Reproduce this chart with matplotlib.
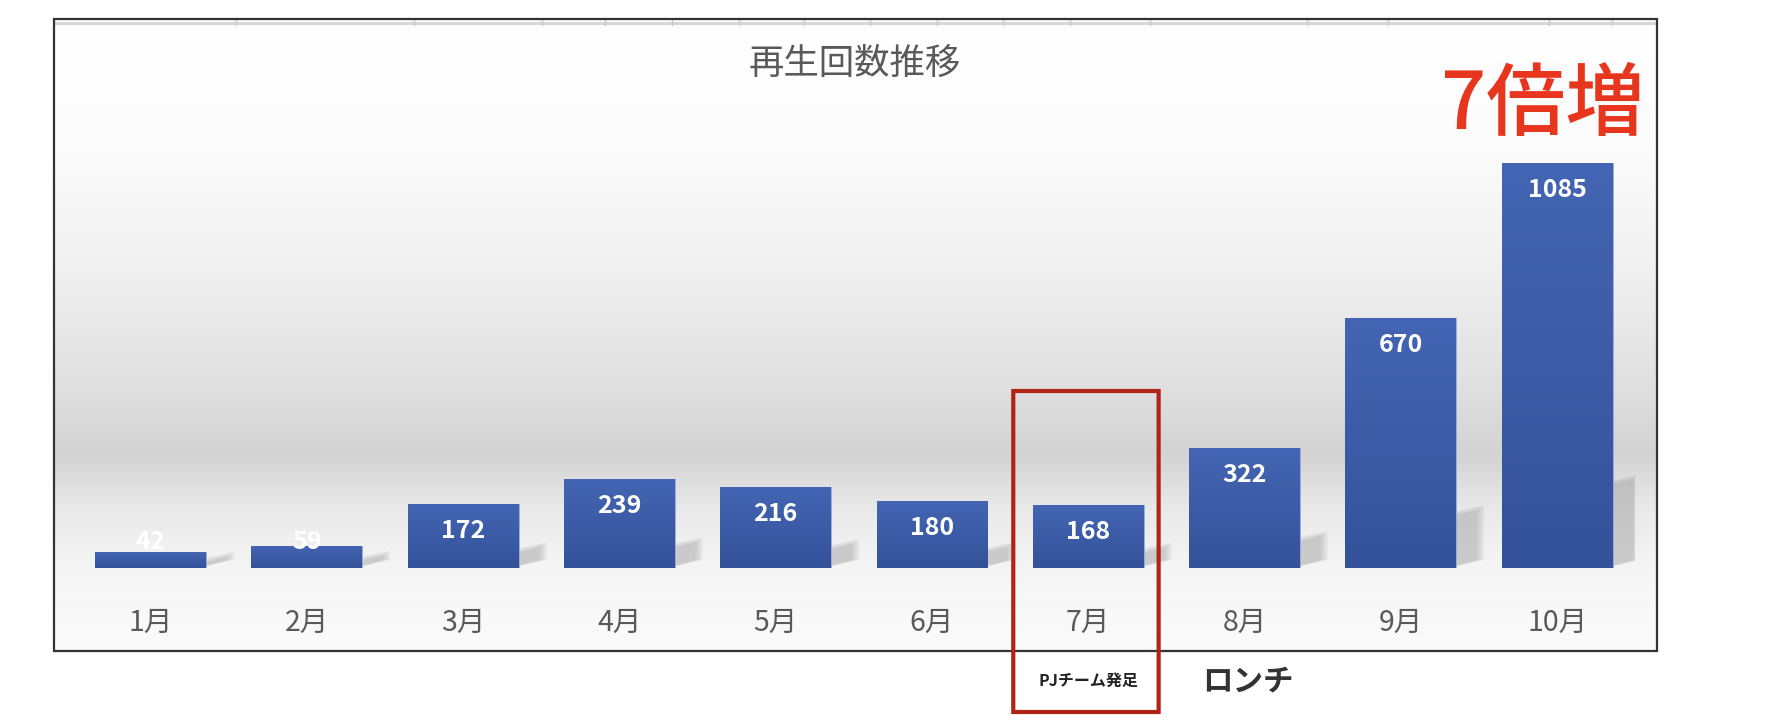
import numpy as np
import matplotlib
matplotlib.use("Agg")
import matplotlib.pyplot as plt
from matplotlib.patches import Rectangle, Polygon, FancyBboxPatch
from matplotlib.colors import LinearSegmentedColormap
from matplotlib.transforms import blended_transform_factory

plt.rcParams['font.family'] = ['Noto Sans CJK JP', 'DejaVu Sans']

# データ
months = ["1月", "2月", "3月", "4月", "5月", "6月", "7月", "8月", "9月", "10月"]
plays = [42, 59, 172, 239, 216, 180, 168, 322, 670, 1085]
title = "再生回数推移"
growth_note = "7倍増"
team_note = "PJチーム発足"
team_idx = 6
launch_note = "ロンチ"
launch_idx = 7

W, H = 1780, 724
fig = plt.figure(figsize=(W / 100, H / 100), dpi=100)

# 背景用（ピクセル座標）
ax_bg = fig.add_axes([0, 0, 1, 1], zorder=0)
ax_bg.set_xlim(0, W)
ax_bg.set_ylim(H, 0)
ax_bg.axis("off")

# グラフエリアのグラデーション
stops = [(0.0, "#ffffff"), (0.2, "#fcfcfc"), (0.4, "#f0f0f0"), (0.58, "#e0e0e0"),
         (0.69, "#d3d3d3"), (0.78, "#eaeaea"), (0.87, "#f5f5f5"), (1.0, "#fbfbfb")]
bg_cmap = LinearSegmentedColormap.from_list("bg", stops)
grad = np.linspace(0, 1, 256).reshape(-1, 1)
ax_bg.imshow(grad, cmap=bg_cmap, aspect="auto", extent=[54, 1657, 651, 19], zorder=1)
ax_bg.add_patch(Rectangle((54, 19), 1603, 632, fill=False, edgecolor="#333333", lw=1.6, zorder=3))
# シートの罫線
ax_bg.plot([55, 1656], [22.5, 22.5], color="#d6d6d6", lw=2.2, zorder=2)
for gx in [236, 414, 542, 605, 672, 739, 804, 870, 937, 1003, 1070, 1150, 1307, 1388, 1549, 1612]:
    ax_bg.plot([gx, gx], [20, 25], color="#c8c8c8", lw=1.0, zorder=2)

# 棒グラフ
ax = fig.add_axes([72.35 / W, (H - 568) / H, 1563 / W, 448.2 / H], zorder=1)
ax.patch.set_alpha(0)
for s in ax.spines.values():
    s.set_visible(False)
ax.set_yticks([])
x = np.arange(len(months))
ax.set_xticks(x)
ax.set_xticklabels(months, fontsize=20.5, color="#595959")
ax.tick_params(axis="x", length=0, pad=29)

bar_w = 0.71
bar_cmap = LinearSegmentedColormap.from_list("bar", ["#34529a", "#4465b3"])

# 影（ぼかし風に重ねる）
for xi, v in zip(x, plays):
    xr = xi + bar_w / 2
    a = 0.2 * v
    for k in range(6):
        grow = (5 - k) * 0.01
        pts = [(xr - 0.05, 0), (xr - 0.05, a + grow * 300),
               (xr + 0.13 + grow, a + 20 + grow * 300), (xr + 0.13 + grow, 22)]
        ax.add_patch(Polygon(pts, closed=True, facecolor="#9a9a9a", edgecolor="none",
                             alpha=0.09, zorder=1))

bars = ax.bar(x, plays, width=bar_w, color="#3d5ca8", edgecolor="#9fb0da", linewidth=0.6, zorder=2)
for b in bars:
    x0, y0 = b.get_x(), b.get_y()
    im = ax.imshow(grad[::-1], cmap=bar_cmap, aspect="auto",
                   extent=[x0, x0 + b.get_width(), y0, y0 + b.get_height()], zorder=3)
    im.set_clip_path(b)
ax.set_xlim(-0.5, 9.5)
ax.set_ylim(0, 1200)

# データラベル
for xi, v in zip(x, plays):
    ax.text(xi, max(v - 72, 70), str(v), ha="center", va="center", color="white",
            fontsize=18, fontweight="bold", zorder=5)

# 注記（前面）
ax_top = fig.add_axes([0, 0, 1, 1], zorder=3)
ax_top.set_xlim(0, W)
ax_top.set_ylim(H, 0)
ax_top.axis("off")
ax_top.patch.set_alpha(0)

ax_top.text(855, 64, title, ha="center", va="center", fontsize=25.5, color="#595959")
ax_top.text(1543, 106, growth_note, ha="center", va="center", fontsize=57,
            fontweight="medium", color="#e8361e")

mix = blended_transform_factory(ax.transData, ax_top.transData)
ax_top.add_patch(FancyBboxPatch((team_idx - 0.48, 391), 0.93, 321,
                                boxstyle="round,pad=0,rounding_size=0.01",
                                fill=False, edgecolor="#b02418", lw=3, transform=mix))
ax_top.text(team_idx, 681, team_note, ha="center", va="center", fontsize=11.5,
            fontweight="bold", color="#222222", transform=mix)
ax_top.text(launch_idx + 0.02, 681, launch_note, ha="center", va="center", fontsize=22,
            fontweight="bold", color="#333333", transform=mix)

fig.savefig("out.png", dpi=100)
